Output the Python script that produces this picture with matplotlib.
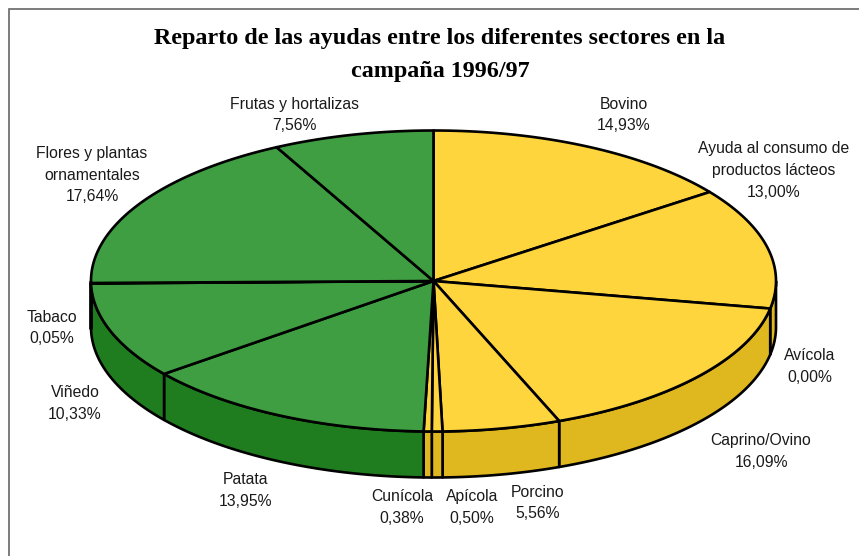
import numpy as np
import matplotlib
matplotlib.use("Agg")
import matplotlib.pyplot as plt
from matplotlib.patches import Polygon

title = "Reparto de las ayudas entre los diferentes sectores en la\ncampaña 1996/97"
sectors = ["Bovino", "Ayuda al consumo de\nproductos lácteos", "Avícola", "Caprino/Ovino",
           "Porcino", "Apícola", "Cunícola", "Patata", "Viñedo", "Tabaco",
           "Flores y plantas\nornamentales", "Frutas y hortalizas"]
values = [14.93, 13.00, 0.00, 16.09, 5.56, 0.50, 0.38, 13.95, 10.33, 0.05, 17.64, 7.56]
value_labels = ["14,93%", "13,00%", "0,00%", "16,09%", "5,56%", "0,50%", "0,38%",
                "13,95%", "10,33%", "0,05%", "17,64%", "7,56%"]
top_colors = ["#FFD53D"] * 7 + ["#3F9E41"] * 5
side_colors = ["#DFB71F"] * 7 + ["#1F7D1F"] * 5
label_x = [624, 774, 810, 761, 538, 472, 402, 246, 75, 52, 92, 294.5]
label_y = [115, 170.5, 366.5, 451.5, 503, 507.5, 507.5, 490.5, 403.5, 328, 175, 115]

W, H = 859, 556
CX, CY, RX, RY, DEPTH = 433.5, 281, 342.5, 150.5, 46

fig = plt.figure(figsize=(W / 100, H / 100), dpi=100)
ax = fig.add_axes([0, 0, 1, 1])
ax.set_xlim(0, W)
ax.set_ylim(H, 0)
ax.axis("off")

# Frame: only the top and left sides are visible in the reference
ax.plot([9, 9, 859], [556, 8.5, 8.5], color="#666666", lw=1.2, solid_joinstyle="miter")


def rim(a0, a1, dy=0.0):
    t = np.radians(np.linspace(a0, a1, max(2, int(abs(a1 - a0) * 2) + 2)))
    return np.column_stack([CX + RX * np.sin(t), CY - RY * np.cos(t) + dy])


edges = np.concatenate([[0], np.cumsum(values)]) * 3.6
edges[-1] = 360.0

for i in range(len(values)):
    a0, a1 = max(edges[i], 90.0), min(edges[i + 1], 270.0)
    if a1 <= a0:
        continue
    pts = np.vstack([rim(a0, a1), rim(a0, a1, DEPTH)[::-1]])
    ax.add_patch(Polygon(pts, closed=True, fc=side_colors[i], ec="black", lw=1.9, joinstyle="round"))

for i in range(len(values)):
    if values[i] == 0:
        continue
    pts = np.vstack([[CX, CY], rim(edges[i], edges[i + 1])])
    ax.add_patch(Polygon(pts, closed=True, fc=top_colors[i], ec="black", lw=1.9, joinstyle="round"))

for name, pct, x, y in zip(sectors, value_labels, label_x, label_y):
    ax.text(x, y, name + "\n" + pct, ha="center", va="center", fontsize=11.3,
            family="Liberation Sans", color="#1a1a1a", linespacing=1.58)

ax.text(440, 55, title, ha="center", va="center", fontsize=17.4, fontweight="bold",
        family="Liberation Serif", color="black", linespacing=1.76)

fig.savefig("out.png", dpi=100)
